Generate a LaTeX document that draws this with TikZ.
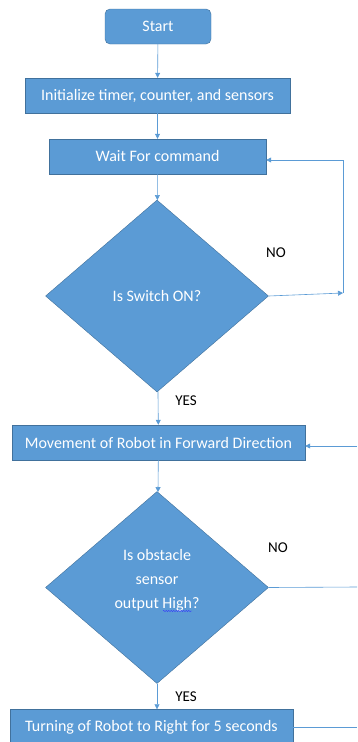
\documentclass[tikz,border=0pt]{standalone}
\usepackage{fontspec}
\setmainfont{Carlito}
\usetikzlibrary{shapes.geometric,arrows.meta,decorations.pathmorphing}
\definecolor{boxblue}{HTML}{5B9BD5}
\definecolor{edgeblue}{HTML}{41719C}
\begin{document}
\begin{tikzpicture}[x=1pt,y=1pt,
        font=\fontsize{16}{24}\selectfont,
        block/.style={draw=edgeblue,fill=boxblue,text=white,inner sep=0pt,minimum height=35pt},
        decide/.style={diamond,draw=edgeblue,fill=boxblue,text=white,inner sep=0pt,
            minimum width=223pt,minimum height=192pt,align=center},
        link/.style={boxblue,semithick,-{Triangle[width=5pt,length=5pt]}},
        plain/.style={boxblue,semithick},
        lbl/.style={font=\fontsize{15}{18}\selectfont}]
    \clip (0,0) rectangle (357,-742);

    \node[block,rounded corners=5pt,minimum width=106pt] (start) at (158,-26.5) {Start};
    \node[block,minimum width=265pt] (init) at (157.5,-95.5) {Initialize timer, counter, and sensors};
    \node[block,minimum width=217pt] (wait) at (157.5,-156.5) {Wait For command};
    \node[decide] (switch) at (157,-296) {Is Switch ON?};
    \node[block,minimum width=293pt] (move) at (158.5,-442.5) {Movement of Robot in Forward Direction};
    \node[decide] (obst) at (157,-587.5) {Is obstacle\\sensor\\output High?\\[-6pt]};
    \node[block,minimum width=283pt] (turn) at (151.5,-727) {Turning of Robot to Right for 5 seconds};

    \node[lbl] (no1) at (276,-253) {NO};
    \node[lbl] (yes1) at (186,-401) {YES};
    \node[lbl] (no2) at (278,-548) {NO};
    \node[lbl] (yes2) at (186,-697) {YES};

    \coordinate (loopA) at (343,-293);
    \coordinate (loopB) at (343,-160);
    \coordinate (backA) at (357,-446);
    \coordinate (backB) at (357,-587);
    \coordinate (backC) at (357,-727);

    \draw[link] (start) -- (init);
    \draw[link] (init) -- (wait);
    \draw[link] (wait) -- (switch);
    \draw[link] (switch.east) -- (loopA);
    \draw[plain] (loopA) -- (loopB);
    \draw[link] (loopB) -- (wait.east |- loopB);
    \draw[link] (switch) -- (move);
    \draw[link] (backA) -- (move.east |- backA);
    \draw[link] (move) -- (obst);
    \draw[plain] (obst.east) -- (backB);
    \draw[link] (obst) -- (turn.north -| obst.south);
    \draw[plain] (turn.east) -- (backC);

    % spell-check mark under High
    \draw[blue!80!white,decorate,decoration={snake,amplitude=0.6pt,segment length=2.5pt}]
        (163,-611) -- (192,-611);
\end{tikzpicture}
\end{document}
